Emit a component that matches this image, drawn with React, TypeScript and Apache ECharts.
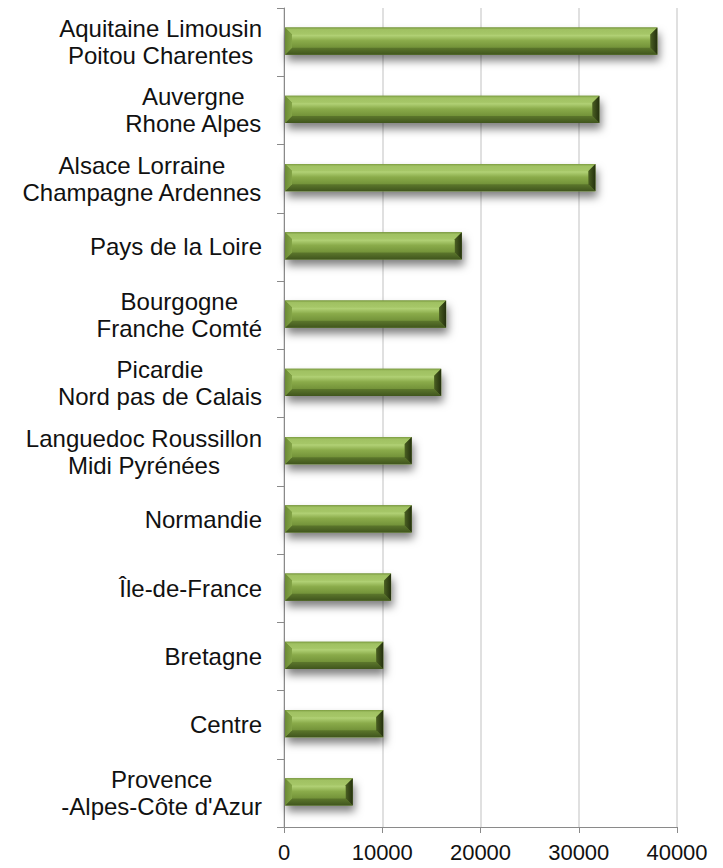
import React, { useEffect, useRef } from "react";
import * as echarts from "echarts";

const categories: string[] = [
  "Aquitaine Limousin\nPoitou Charentes",
  "Auvergne\nRhone Alpes",
  "Alsace Lorraine\nChampagne Ardennes",
  "Pays de la Loire",
  "Bourgogne\nFranche Comté",
  "Picardie\nNord pas de Calais",
  "Languedoc Roussillon\nMidi Pyrénées",
  "Normandie",
  "Île-de-France",
  "Bretagne",
  "Centre",
  "Provence\n-Alpes-Côte d'Azur",
];

const values: number[] = [38000, 32100, 31700, 18100, 16500, 16000, 13000, 13000, 10900, 10100, 10100, 7000];

const xTicks: number[] = [0, 10000, 20000, 30000, 40000];

const FONT = "'Liberation Sans', Arial, sans-serif";

export default function App() {
  const ref = useRef<HTMLDivElement>(null);

  useEffect(() => {
    if (!ref.current) return;
    const chart = echarts.init(ref.current, undefined, { renderer: "svg" });

    const lin = (stops: [number, string][], horizontal = false) =>
      new echarts.graphic.LinearGradient(0, 0, horizontal ? 1 : 0, horizontal ? 0 : 1,
        stops.map(([offset, color]) => ({ offset, color })));

    const option: any = {
      animation: false,
      backgroundColor: "#ffffff",
      grid: { left: 284, right: 46, top: 8, bottom: 41, containLabel: false },
      xAxis: {
        type: "value",
        min: xTicks[0],
        max: xTicks[xTicks.length - 1],
        interval: 10000,
        axisLine: { show: true, lineStyle: { color: "#8a8a8a", width: 1 } },
        axisTick: { show: true, length: 6, lineStyle: { color: "#8a8a8a" } },
        splitLine: { show: true, lineStyle: { color: "#d6d6d6", width: 1.5 } },
        axisLabel: {
          margin: 14,
          fontSize: 22,
          fontFamily: FONT,
          color: "#111",
          formatter: (v: number) => String(v),
        },
      },
      yAxis: {
        type: "category",
        data: categories,
        inverse: true,
        axisLine: { show: true, lineStyle: { color: "#8a8a8a", width: 1 } },
        axisTick: { show: true, length: 7, lineStyle: { color: "#8a8a8a" } },
        splitLine: { show: false },
        axisLabel: {
          margin: 22,
          align: "right",
          color: "#111",
          formatter: (v: string) => v.split("\n").map((l) => `{c|${l}}`).join("\n"),
          rich: {
            c: {
              align: "center",
              fontSize: 24,
              fontFamily: FONT,
              color: "#111",
              lineHeight: 27,
            },
          },
        },
      },
      series: [
        {
          type: "custom",
          encode: { x: 0, y: 1 },
          data: values.map((v, i) => [v, i]),
          renderItem: (params: any, api: any) => {
            const v = api.value(0);
            const c = api.value(1);
            const p0 = api.coord([0, c]);
            const p1 = api.coord([v, c]);
            const band = api.size([0, 1])[1];
            const h = band * 0.4;
            const x0 = p0[0] + 1;
            const x1 = p1[0];
            const y0 = p0[1] - h / 2 - 1;
            const y1 = y0 + h;
            const b = 7;
            return {
              type: "group",
              children: [
                {
                  type: "rect",
                  shape: { x: x0, y: y0, width: x1 - x0, height: h },
                  style: {
                    fill: "#6f8e37",
                    shadowColor: "rgba(0,0,0,0.5)",
                    shadowBlur: 9,
                    shadowOffsetX: 2,
                    shadowOffsetY: 6,
                  },
                },
                {
                  type: "rect",
                  shape: { x: x0 + b, y: y0 + 2, width: x1 - x0 - 2 * b, height: h - 2 - b + 2 },
                  style: {
                    fill: lin([
                      [0, "#9abb5a"],
                      [0.3, "#b0d074"],
                      [0.55, "#8aab4a"],
                      [1, "#6c8b34"],
                    ]),
                  },
                },
                {
                  type: "polygon",
                  shape: { points: [[x0, y0], [x1, y0], [x1 - b, y0 + b], [x0 + b, y0 + b]] },
                  style: { fill: lin([[0, "#7b9b40"], [0.3, "#a0c162"], [1, "#a6c768"]]) },
                },
                {
                  type: "polygon",
                  shape: { points: [[x0, y1], [x1, y1], [x1 - b, y1 - b], [x0 + b, y1 - b]] },
                  style: { fill: lin([[0, "#5c772c"], [1, "#40551d"]]) },
                },
                {
                  type: "polygon",
                  shape: { points: [[x0, y0], [x0 + b, y0 + b], [x0 + b, y1 - b], [x0, y1]] },
                  style: { fill: lin([[0, "#6b8a34"], [1, "#84a547"]], true) },
                },
                {
                  type: "polygon",
                  shape: { points: [[x1, y0], [x1 - b, y0 + b], [x1 - b, y1 - b], [x1, y1]] },
                  style: { fill: lin([[0, "#4a5f22"], [1, "#24300e"]], true) },
                },
              ],
            };
          },
        },
      ],
    };

    chart.setOption(option);
    return () => chart.dispose();
  }, []);

  return (
    <div
      ref={ref}
      style={{ position: "absolute", left: 0, top: 0, width: 723, height: 868, background: "#fff" }}
    />
  );
}
